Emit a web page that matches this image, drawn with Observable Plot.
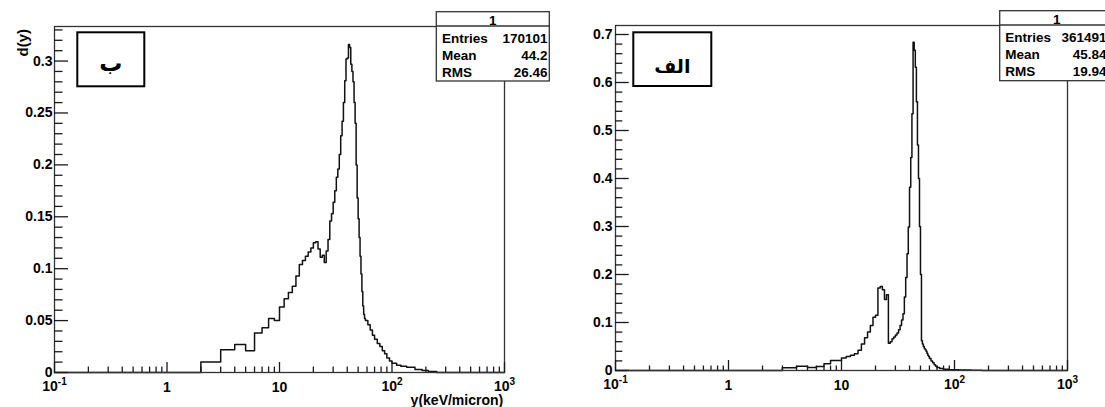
<!DOCTYPE html>
<html><head><meta charset="utf-8">
<script src="https://cdn.jsdelivr.net/npm/d3@7"></script>
<script src="https://cdn.jsdelivr.net/npm/@observablehq/plot@0.6"></script>
<style>
html,body{margin:0;padding:0;background:#fff;}
#wrap{position:relative;width:1105px;height:407px;overflow:hidden;background:#fff;}
#wrap svg.panel{position:absolute;top:0;}
#overlay{position:absolute;left:0;top:0;overflow:hidden;}
</style></head><body>
<div id="wrap"></div>
<script>
// ---------- data ----------
const xTickValues = [0.1, 1, 10, 100, 1000];
const xTickLabels = ["10^-1", "1", "10", "10^2", "10^3"];
const yTicksB = [0, 0.05, 0.1, 0.15, 0.2, 0.25, 0.3];
const yTicksA = [0, 0.1, 0.2, 0.3, 0.4, 0.5, 0.6, 0.7];
const yAxisTitle = "d(y)";
const xAxisTitle = "y(keV/micron)";
const panelLabelB = "ب";
const panelLabelA = "الف";
const statsTitle = "1";
const statNames = ["Entries", "Mean", "RMS"];
const statValuesB = ["170101", "44.2", "26.46"];
const statValuesA = ["361491", "45.84", "19.94"];

// left panel (ب): bin edges and contents
const edgesB = [2,3,4,5,6,7,8,9,10,11,12,13,14,15,16,17,18,19,20,21,22,23,24,25,26,27,28,29,30,
  31,32,33,34,35,36,37,38,39,40,41,42,43,44,45,46,47,48,49,50,51,52,53,54,55,56,57,58,
  61,64,67,70,74,78,82,86,90,95,100,110,120,135,160,185,210,250];
const valuesB = [
  0.010,0.022,0.027,0.021,0.038,0.043,0.052,0.050,
  0.063,0.071,0.077,0.083,0.093,0.104,0.108,0.112,0.116,0.120,
  0.125,0.126,0.119,0.111,0.113,0.106,0.117,0.128,0.146,0.153,
  0.164,0.175,0.188,0.196,0.210,0.228,0.242,0.260,0.281,0.302,
  0.303,0.316,0.313,0.297,0.290,0.280,0.260,0.240,0.200,0.168,
  0.148,0.130,0.112,0.095,0.078,0.064,0.056,0.052,
  0.050,0.046,0.041,0.036,0.032,0.028,0.025,0.021,0.018,0.014,0.011,0.009,0.007,0.006,0.005,0.003,0.002,0.001];

// right panel (الف): bin edges and contents
const edgesA = [3,4,5,6,7,8,9,10,11,12,13,14,15,16,17,18,19,20,21,22,23,24,25,26,27,28,29,30,
  31,32,33,34,35,36,37,38,39,40,41,42,43,44,45,46,47,48,49,50,51,52,53,54,55,56,57,58,59,60,
  62,64,66,68,70,74,80,90,110,140,175];
const valuesA = [
  0.0056,0.009,0.0065,0.0085,0.014,0.021,0.021,
  0.026,0.029,0.032,0.035,0.042,0.055,0.068,0.080,0.094,0.111,
  0.115,0.172,0.175,0.168,0.148,0.158,0.057,0.060,0.066,0.070,
  0.074,0.078,0.085,0.094,0.105,0.118,0.153,0.194,0.243,0.299,
  0.382,0.444,0.535,0.684,0.667,0.632,0.560,0.470,0.400,0.300,
  0.200,0.062,0.055,0.050,0.046,0.043,0.040,0.036,0.032,0.029,
  0.025,0.020,0.016,0.012,0.009,0.006,0.004,0.0025,0.0018,0.0012,0.0006];

// ---------- drawing ----------
const FONT = '"Liberation Sans", Arial, Helvetica, sans-serif';
const STATFONT = '"Liberation Sans Narrow", "Liberation Sans", Arial, sans-serif';
const INK = "#1a1a1a";

function panel(o) {
  const height = 407;
  const fw = o.width - o.mL - o.mR, fh = height - o.mT - o.mB;
  const pts = [{x: 0.1, y: 0}];
  o.values.forEach((v, i) => pts.push({x: o.edges[i], y: v}));
  pts.push({x: o.edges[o.edges.length - 1], y: 0});
  pts.push({x: 1000, y: 0});
  const xMinor = [];
  xTickValues.slice(0, -1).forEach(d => { for (let k = 2; k <= 9; k++) xMinor.push(d * k); });
  const yMinor = d3.range(0, Math.floor(o.yMax / o.yMinorStep + 1e-6) + 1)
    .map(i => +(i * o.yMinorStep).toFixed(4))
    .filter(v => v <= o.yMax && !o.yTicks.includes(v));
  const marks = [
    Plot.line(pts, {x: "x", y: "y", curve: "step-after", stroke: "#111", strokeWidth: 1.5}),
    Plot.frame({stroke: "#333", strokeWidth: 1.3}),
    Plot.tickX(xTickValues, {x: d => d, insetTop: fh - o.xMajLen, stroke: INK, strokeWidth: 1.3}),
    Plot.tickX(xMinor, {x: d => d, insetTop: fh - o.xMinLen, stroke: INK, strokeWidth: 1.3}),
    Plot.tickY(o.yTicks, {y: d => d, insetRight: fw - o.yMajLen, stroke: INK, strokeWidth: 1.3}),
    Plot.tickY(yMinor, {y: d => d, insetRight: fw - o.yMinLen, stroke: INK, strokeWidth: 1.3}),
    Plot.axisX(xTickValues, {tickSize: 0, tickPadding: 10, label: null,
      tickFormat: d => xTickLabels[xTickValues.indexOf(d)]}),
    Plot.axisY(o.yTicks, {tickSize: 0, tickPadding: o.yPad, label: null, tickFormat: d => String(d)})
  ];
  if (o.titles) {
    marks.push(Plot.text([yAxisTitle], {frameAnchor: "top-left", text: d => d, rotate: -90,
      textAnchor: "end", dx: -37.5, dy: 2.5, fontSize: 15, fontWeight: "bold"}));
    marks.push(Plot.text([xAxisTitle], {frameAnchor: "bottom-right", text: d => d,
      textAnchor: "end", dx: -1.3, dy: 32.5, fontSize: 14, fontWeight: "bold"}));
  }
  const svg = Plot.plot({
    width: o.width, height,
    marginLeft: o.mL, marginRight: o.mR, marginTop: o.mT, marginBottom: o.mB,
    x: {type: "log", domain: [0.1, 1000]},
    y: {domain: [0, o.yMax]},
    style: {fontFamily: FONT, fontSize: "14px", fontWeight: "bold", color: "#000",
      background: "transparent", overflow: "visible"},
    marks
  });
  svg.classList.add("panel");
  svg.style.left = o.left + "px";
  // exponent labels: 10 with raised power
  d3.select(svg).selectAll('g[aria-label="x-axis tick label"] text').each(function() {
    const t = this.textContent;
    const m = t.match(/^(\d+)\^(.+)$/);
    if (m) {
      this.textContent = "";
      const s = d3.select(this);
      s.append("tspan").attr("dy", "-1.5").text(m[1]);
      s.append("tspan").attr("dy", "-5.5").attr("font-size", "10px").text(m[2]);
    }
  });
  return svg;
}

const wrap = document.getElementById("wrap");
wrap.appendChild(panel({left: 0, width: 552, mL: 54, mR: 48, mT: 26, mB: 35,
  edges: edgesB, values: valuesB, yMax: 0.3333, yTicks: yTicksB, yMinorStep: 0.01,
  yMajLen: 14, yMinLen: 8.5, xMajLen: 10, xMinLen: 5.5, yPad: 2, titles: true}));
wrap.appendChild(panel({left: 552, width: 553, mL: 63, mR: 38, mT: 25, mB: 37,
  edges: edgesA, values: valuesA, yMax: 0.71875, yTicks: yTicksA, yMinorStep: 0.02,
  yMajLen: 13.7, yMinLen: 7.3, xMajLen: 10, xMinLen: 4.5, yPad: 3, titles: false}));

// overlay: stats boxes and panel labels
const ov = d3.select(wrap).append("svg").attr("id", "overlay")
  .attr("width", 1105).attr("height", 407).attr("font-family", STATFONT);

function statsBox(b, values) {
  const g = ov.append("g").attr("font-size", 13.5).attr("font-weight", "bold").attr("fill", "#000");
  g.append("rect").attr("x", b.x).attr("y", b.y).attr("width", b.w).attr("height", b.h)
    .attr("fill", "#fff").attr("stroke", "#333").attr("stroke-width", 1.3);
  g.append("line").attr("x1", b.x).attr("x2", b.x + b.w).attr("y1", b.sepY).attr("y2", b.sepY)
    .attr("stroke", "#333").attr("stroke-width", 1.3);
  g.append("text").attr("x", b.titleX).attr("y", b.titleY).attr("text-anchor", "middle").text(statsTitle);
  statNames.forEach((n, i) => {
    g.append("text").attr("x", b.labelX).attr("y", b.rows[i]).text(n);
    g.append("text").attr("x", b.valueX).attr("y", b.rows[i]).attr("text-anchor", "end").text(values[i]);
  });
}
statsBox({x: 436.3, y: 11.7, w: 113, h: 69.3, sepY: 26, titleX: 492.8, titleY: 25,
  labelX: 442, valueX: 547.5, rows: [42.6, 59.8, 76.6]}, statValuesB);
statsBox({x: 999.7, y: 10.7, w: 113, h: 70, sepY: 25, titleX: 1056.7, titleY: 24,
  labelX: 1005.3, valueX: 1106.5, rows: [42, 59, 76.3]}, statValuesA);

function labelBox(b, txt) {
  const g = ov.append("g");
  g.append("rect").attr("x", b.x).attr("y", b.y).attr("width", b.w).attr("height", b.h)
    .attr("fill", "#fff").attr("stroke", "#000").attr("stroke-width", 2);
  g.append("text").attr("x", b.tx).attr("y", b.ty).attr("text-anchor", "middle")
    .attr("font-family", '"DejaVu Sans", "Noto Sans", sans-serif').attr("font-weight", "bold")
    .attr("font-size", b.fs).attr("direction", "rtl").text(txt);
}
labelBox({x: 77.3, y: 32.3, w: 67, h: 54, tx: 110.8, ty: 71, fs: 23}, panelLabelB);
labelBox({x: 633.3, y: 32.3, w: 78, h: 53.7, tx: 672.3, ty: 73, fs: 19}, panelLabelA);
</script>
</body></html>
